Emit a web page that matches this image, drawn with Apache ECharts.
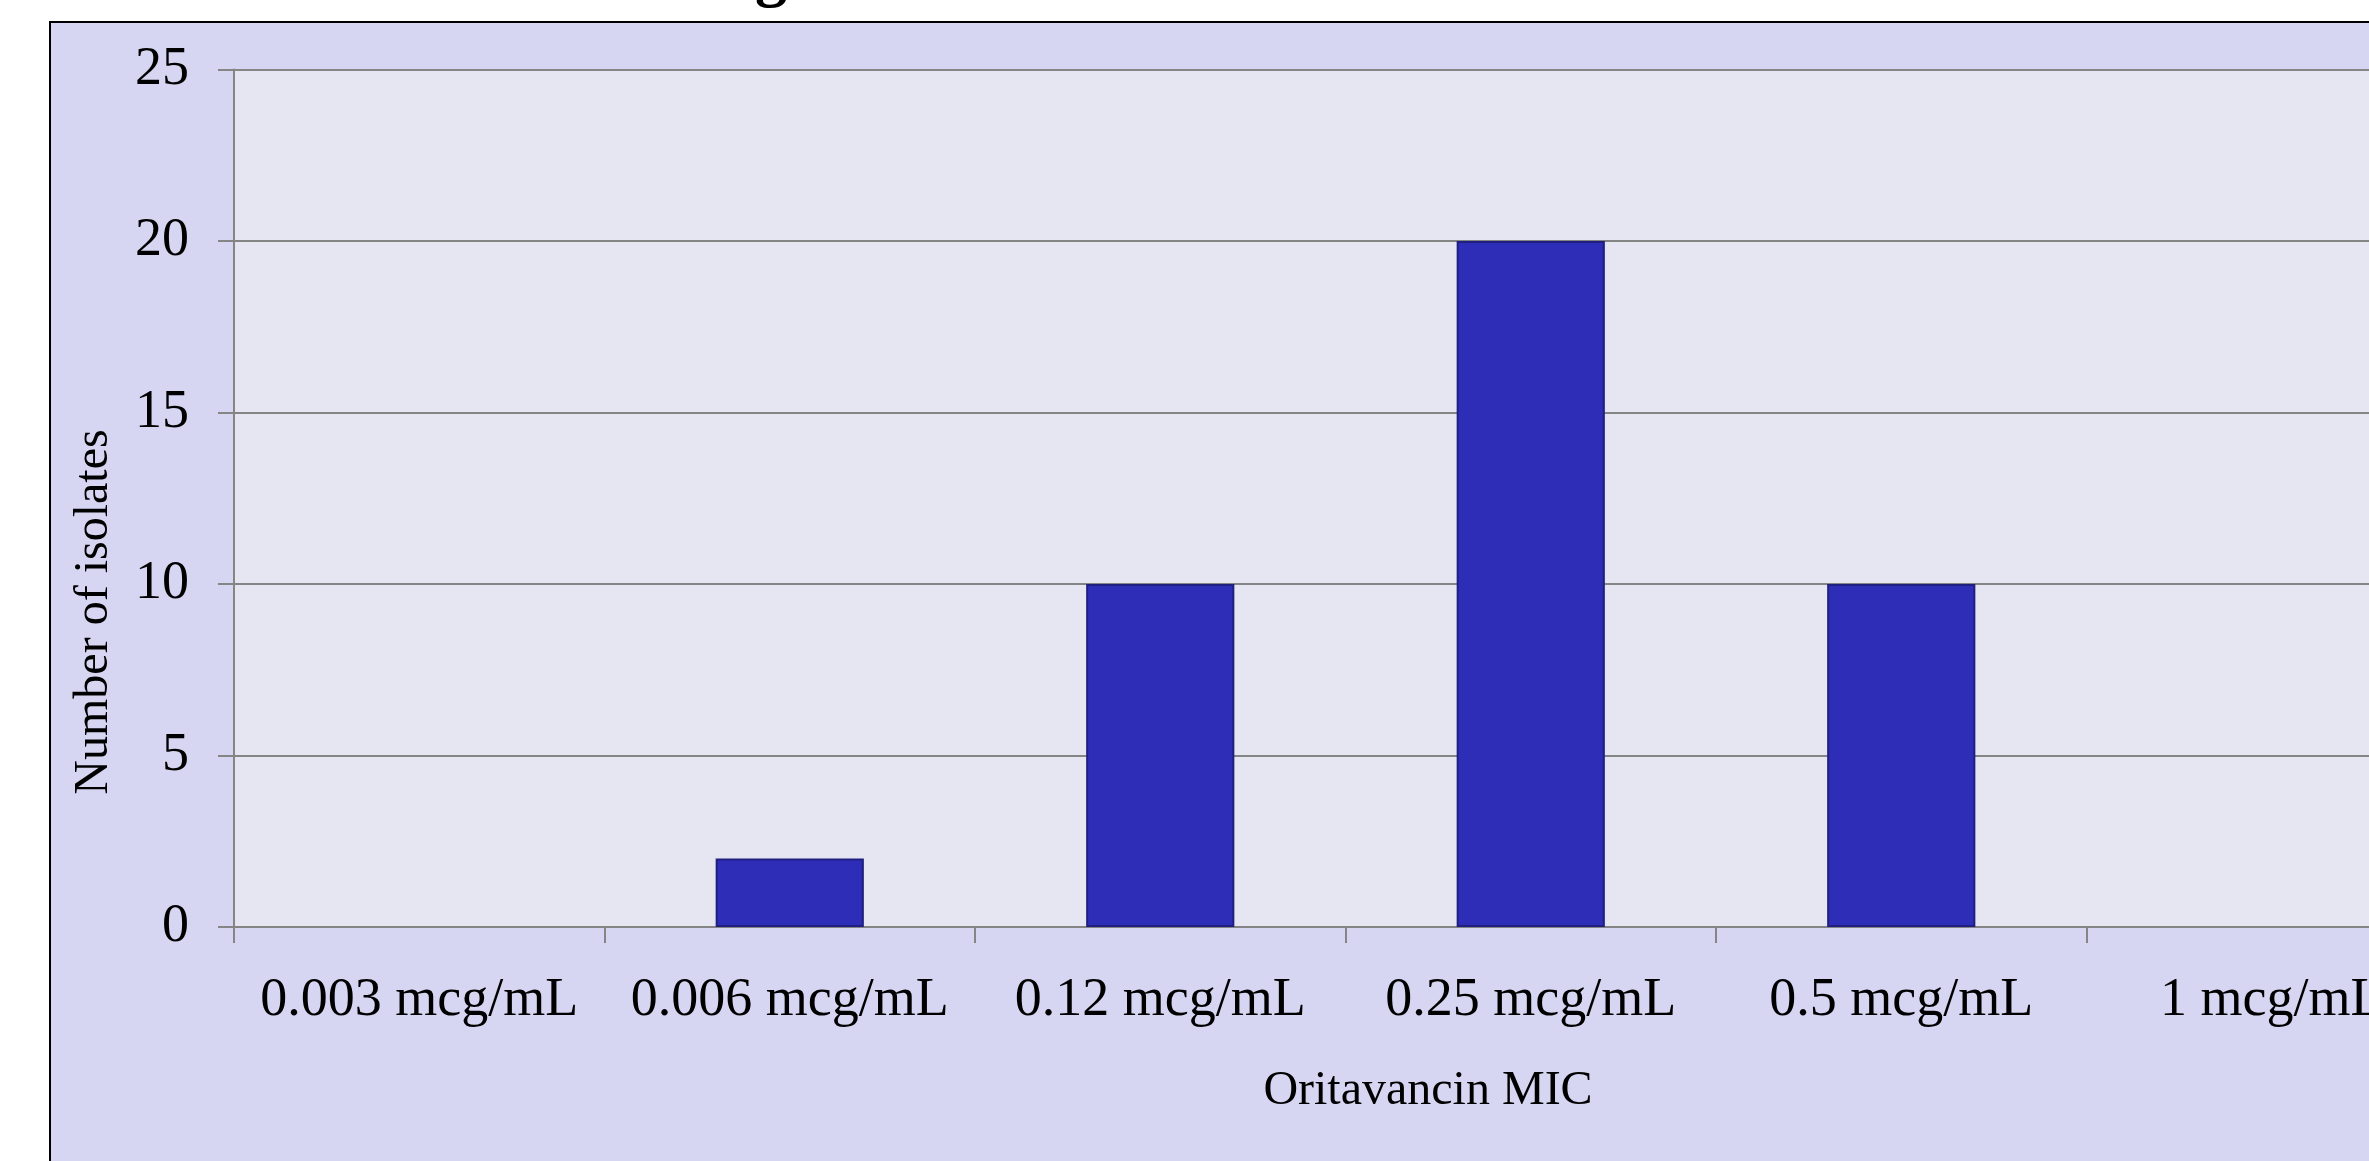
<!DOCTYPE html>
<html>
<head>
<meta charset="utf-8">
<script src="https://cdn.jsdelivr.net/npm/echarts@6/dist/echarts.min.js"></script>
<style>
html,body{margin:0;padding:0;background:#ffffff;overflow:hidden;width:2369px;height:1161px;}
#chart{width:2480px;height:1161px;}
</style>
</head>
<body>
<div id="chart"></div>
<script>
const categories = ['0.003 mcg/mL', '0.006 mcg/mL', '0.12 mcg/mL', '0.25 mcg/mL', '0.5 mcg/mL', '1 mcg/mL'];
const isolateCounts = [0, 2, 10, 20, 10, 0];
const yTicks = [0, 5, 10, 15, 20, 25];
const xTitle = 'Oritavancin MIC';
const yTitle = 'Number of isolates';
const titleFragment = 'g';

const FONT = 'Liberation Serif';
const chart = echarts.init(document.getElementById('chart'), null, {renderer: 'canvas'});
chart.setOption({
  backgroundColor: '#ffffff',
  animation: false,
  grid: {
    left: 234, top: 69.5, right: 23, bottom: 234,
    show: true, backgroundColor: '#E6E6F2', borderWidth: 0, containLabel: false
  },
  xAxis: {
    type: 'category',
    data: categories,
    boundaryGap: true,
    axisLine: {show: true, lineStyle: {color: '#858585', width: 2}},
    axisTick: {show: true, alignWithLabel: false, interval: 0, length: 16, lineStyle: {color: '#858585', width: 2}},
    axisLabel: {interval: 0, margin: 47, color: '#000000', fontFamily: FONT, fontSize: 54},
    splitLine: {show: false}
  },
  yAxis: {
    type: 'value',
    min: yTicks[0],
    max: yTicks[yTicks.length - 1],
    interval: yTicks[1] - yTicks[0],
    axisLine: {show: true, lineStyle: {color: '#858585', width: 2}},
    axisTick: {show: true, length: 16, lineStyle: {color: '#858585', width: 2}},
    axisLabel: {margin: 45, color: '#000000', fontFamily: FONT, fontSize: 54},
    splitLine: {show: true, lineStyle: {color: '#858585', width: 2}}
  },
  series: [{
    type: 'bar',
    data: isolateCounts.map(v => v === 0 ? {value: v, itemStyle: {borderWidth: 0, opacity: 0}} : v),
    barWidth: '40%',
    itemStyle: {color: '#2E2DB8', borderColor: '#1F1F80', borderWidth: 2},
    z: 3
  }],
  graphic: {
    elements: [
      {
        type: 'rect', z: -10, silent: true,
        shape: {x: 50, y: 22, width: 2600, height: 1300},
        style: {fill: '#D6D6F3', stroke: '#000000', lineWidth: 2}
      },
      {
        type: 'text', z: 10, silent: true,
        x: 94, y: 612, rotation: Math.PI / 2,
        style: {text: yTitle, fill: '#000000', font: '48px "Liberation Serif"', align: 'center', verticalAlign: 'middle'}
      },
      {
        type: 'text', z: 10, silent: true,
        x: 1428, y: 1091,
        style: {text: xTitle, fill: '#000000', font: '48px "Liberation Serif"', align: 'center', verticalAlign: 'middle'}
      },
      {
        type: 'text', z: 10, silent: true,
        x: 771, y: 9,
        style: {text: titleFragment, fill: '#000000', font: 'bold 64px "Liberation Serif"', align: 'center', verticalAlign: 'bottom'}
      }
    ]
  }
});
</script>
</body>
</html>
